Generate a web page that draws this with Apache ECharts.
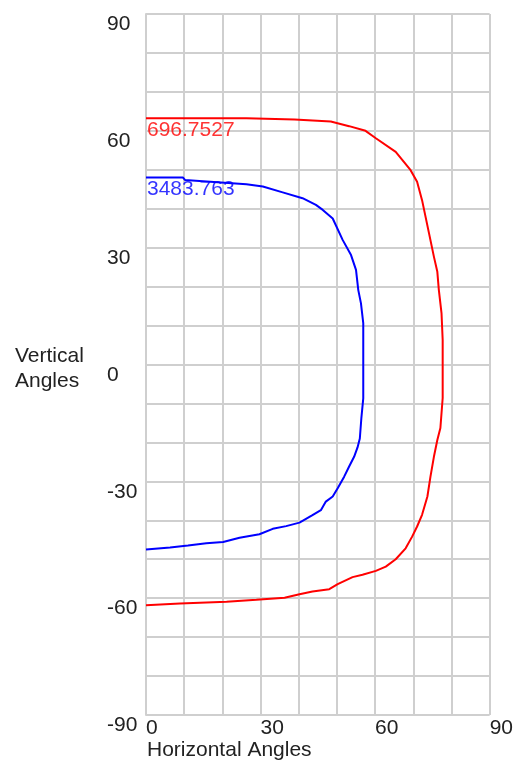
<!DOCTYPE html>
<html>
<head>
<meta charset="utf-8">
<script src="https://cdn.jsdelivr.net/npm/echarts@6/dist/echarts.min.js"></script>
<style>
  html, body { margin: 0; padding: 0; background: #fff; }
  #chart { width: 516px; height: 769px; }
</style>
</head>
<body>
<div id="chart"></div>
<script>
// Isocandela contours: horizontal angle (deg) vs vertical angle (deg)
var contourLevels = ['696.7527', '3483.763'];
var contourColors = ['#ff0000', '#0000ff'];

var outerH = [0, 26.3, 26.4, 38.9, 39.1, 48.4, 53.2, 57.5, 60.2, 65.4, 69.3, 71.0, 72.3, 74.1, 75.4, 76.3, 76.7, 77.4, 77.7, 77.7, 77.7, 77.1, 76.3, 75.4, 74.5, 73.7, 72.3, 71.0, 69.7, 68.0, 65.4, 62.8, 60.2, 56.7, 54.1, 50.2, 48.0, 43.6, 40.2, 36.3, 28.9, 21.1, 8.9, 0];
var outerV = [63.2, 63.2, 62.9, 62.9, 62.4, 62.4, 61.2, 60.0, 58.1, 54.6, 49.9, 46.9, 42.2, 33.8, 27.7, 23.8, 19.1, 13.1, 6.3, 0, -8.6, -16.3, -19.4, -23.7, -28.8, -33.9, -38.6, -41.6, -44.2, -47.2, -50.0, -51.9, -53.0, -54.0, -54.6, -56.4, -57.7, -58.3, -59.0, -59.9, -60.4, -60.9, -61.4, -61.8];

var innerH = [0, 9.7, 10.2, 26.3, 30.6, 35.8, 41.0, 44.5, 46.3, 48.9, 51.5, 53.7, 55.0, 55.6, 56.3, 56.9, 56.9, 56.9, 56.4, 56.0, 55.4, 54.5, 53.2, 51.9, 50.2, 48.9, 47.1, 45.8, 43.6, 40.2, 36.7, 33.2, 29.7, 24.5, 20.2, 15.8, 11.0, 6.3, 0];
var innerV = [48.0, 48.0, 47.4, 46.3, 45.7, 44.2, 42.7, 41.0, 39.7, 37.5, 32.0, 28.1, 24.3, 19.1, 15.7, 10.6, 0, -8.7, -13.8, -19.0, -21.3, -23.7, -26.2, -28.8, -31.8, -33.9, -35.2, -37.4, -38.7, -40.6, -41.5, -42.2, -43.6, -44.5, -45.6, -45.9, -46.5, -47.0, -47.5];

var xTitle = 'Horizontal Angles';
var yTitle = 'Vertical\nAngles';

function pairs(h, v) {
  var out = [];
  for (var i = 0; i < h.length; i++) out.push([h[i], v[i]]);
  return out;
}

var FONT = 'Liberation Sans, Arial, sans-serif';
var gridLine = { color: '#cfcfcf', width: 2 };

var curves = [pairs(outerH, outerV), pairs(innerH, innerV)];
var series = [];
curves.forEach(function (pts, i) {
  series.push({
    type: 'line',
    data: pts,
    symbol: 'none',
    lineStyle: { color: contourColors[i], width: 2 },
    animation: false,
    z: 3
  });
  // level label hung just below the start of each contour
  series.push({
    type: 'scatter',
    data: [pts[0]],
    symbolSize: 0,
    silent: true,
    animation: false,
    label: {
      show: true,
      position: [1, 1],
      formatter: contourLevels[i],
      color: contourColors[i],
      fontFamily: FONT,
      fontSize: 21,
      lineHeight: 21
    },
    z: 4
  });
});

var chart = echarts.init(document.getElementById('chart'), null, { renderer: 'canvas' });
chart.setOption({
  backgroundColor: '#ffffff',
  animation: false,
  grid: { left: 146, right: 25, top: 14, bottom: 54, containLabel: false },
  xAxis: {
    type: 'value',
    min: 0, max: 90, interval: 30,
    axisLine: { show: true, lineStyle: gridLine },
    axisTick: { show: false },
    splitLine: { show: true, lineStyle: gridLine },
    minorTick: { show: false, splitNumber: 3 },
    minorSplitLine: { show: true, lineStyle: gridLine },
    axisLabel: {
      align: 'left', verticalAlign: 'top', margin: 3,
      color: '#222', fontFamily: FONT, fontSize: 21, lineHeight: 21,
      showMinLabel: true, showMaxLabel: true
    }
  },
  yAxis: {
    type: 'value',
    min: -90, max: 90, interval: 30,
    axisLine: { show: true, lineStyle: gridLine },
    axisTick: { show: false },
    splitLine: { show: true, lineStyle: gridLine },
    minorTick: { show: false, splitNumber: 3 },
    minorSplitLine: { show: true, lineStyle: gridLine },
    axisLabel: {
      align: 'left', verticalAlign: 'top', margin: 39,
      color: '#222', fontFamily: FONT, fontSize: 21, lineHeight: 21,
      showMinLabel: true, showMaxLabel: true
    }
  },
  graphic: [
    { type: 'text', left: 15, top: 344,
      style: { text: yTitle, fill: '#222', font: '21px ' + FONT, lineHeight: 25 } },
    { type: 'text', left: 147, top: 740,
      style: { text: xTitle, fill: '#222', font: '21px ' + FONT } }
  ],
  series: series
});
</script>
</body>
</html>
